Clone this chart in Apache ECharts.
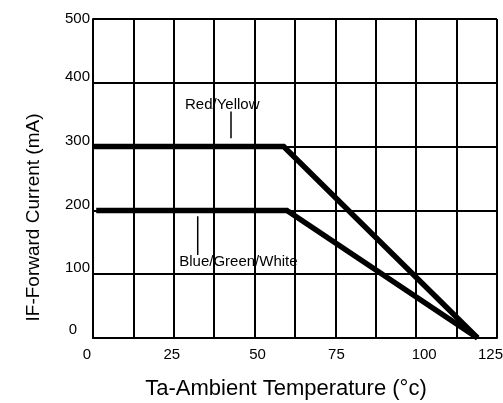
<!DOCTYPE html>
<html>
<head>
<meta charset="utf-8">
<script src="https://cdn.jsdelivr.net/npm/echarts@6/dist/echarts.min.js"></script>
<style>html,body{margin:0;padding:0;background:#fff;}#c{width:503px;height:403px;}</style>
</head>
<body>
<div id="c"></div>
<script>
// Data
const redYellow = [[0, 300], [59, 300], [119, 0]];
const blueGreenWhite = [[1, 200], [60, 200], [119, 0]];
const xTickLabels = [0, 25, 50, 75, 100, 125];
const yTickLabels = [0, 100, 200, 300, 400, 500];
const annotationTexts = [
  { name: 'Red/Yellow', value: [40, 365] },
  { name: 'Blue/Green/White', value: [45, 119] }
];
const redLeader = [[42.7, 313], [42.7, 355]];
const blueLeader = [[32.4, 130], [32.4, 191]];

const FONT = 'Liberation Sans, Arial, sans-serif';
const BLACK = '#000';

// small per-label nudges to mimic the scanned layout
const xShift = { 0: -6, 25: -2, 50: 3, 75: 1, 100: 8, 125: -6.5 };
const xRich = {};
xTickLabels.forEach(v => {
  const s = xShift[v] || 0;
  xRich['x' + v] = { fontSize: 15, fontFamily: FONT, color: BLACK,
    padding: s >= 0 ? [0, 0, 0, 2 * s] : [0, -2 * s, 0, 0] };
});
const yShiftUp = { 0: 8, 100: 6, 200: 6, 300: 6, 400: 6, 500: 0 };
const yRich = {};
yTickLabels.forEach(v => {
  yRich['y' + v] = { fontSize: 15, fontFamily: FONT, color: BLACK,
    padding: [0, v === 0 ? 13 : 0, 2 * yShiftUp[v], 0] };
});

const chart = echarts.init(document.getElementById('c'), null, { renderer: 'canvas' });
chart.setOption({
  backgroundColor: '#fff',
  animation: false,
  grid: { left: 93, right: 6, top: 19, bottom: 65, containLabel: false, outerBoundsMode: 'none' },
  xAxis: {
    type: 'value', min: 0, max: 125, interval: 12.5,
    name: 'Ta-Ambient Temperature (°c)',
    nameLocation: 'middle', nameGap: 40,
    nameTextStyle: { fontSize: 22, fontFamily: FONT, color: BLACK, padding: [0, 18, 0, 0] },
    axisLine: { show: true, lineStyle: { color: BLACK, width: 2 } },
    axisTick: { show: false },
    splitLine: { show: true, lineStyle: { color: BLACK, width: 2 } },
    axisLabel: {
      margin: 9,
      formatter: v => xTickLabels.indexOf(v) >= 0 ? '{x' + v + '|' + v + '}' : '',
      rich: xRich
    }
  },
  yAxis: {
    type: 'value', min: 0, max: 500, interval: 100,
    name: 'IF-Forward Current (mA)',
    nameLocation: 'middle', nameGap: 50,
    nameTextStyle: { fontSize: 19, fontFamily: FONT, color: BLACK, padding: [0, 78, 0, 0] },
    axisLine: { show: true, lineStyle: { color: BLACK, width: 2 } },
    axisTick: { show: false },
    splitLine: { show: true, lineStyle: { color: BLACK, width: 2 } },
    axisLabel: {
      margin: 3,
      formatter: v => '{y' + v + '|' + v + '}',
      rich: yRich
    }
  },
  series: [
    { name: 'Red/Yellow', type: 'line', data: redYellow, symbol: 'none',
      lineStyle: { color: BLACK, width: 5.5, join: 'miter' }, z: 5 },
    { name: 'Blue/Green/White', type: 'line', data: blueGreenWhite, symbol: 'none',
      lineStyle: { color: BLACK, width: 5.5, join: 'miter' }, z: 5 },
    { type: 'line', data: redLeader, symbol: 'none', lineStyle: { color: BLACK, width: 1.5 }, z: 4 },
    { type: 'line', data: blueLeader, symbol: 'none', lineStyle: { color: BLACK, width: 1.5 }, z: 4 },
    { type: 'scatter', data: annotationTexts, symbolSize: 0, z: 6,
      itemStyle: { opacity: 1, color: BLACK },
      label: { show: true, position: 'inside', formatter: '{b}',
        fontSize: 15, fontFamily: FONT, color: BLACK, opacity: 1,
        textBorderWidth: 0, textBorderColor: 'transparent' } }
  ]
});
</script>
</body>
</html>
